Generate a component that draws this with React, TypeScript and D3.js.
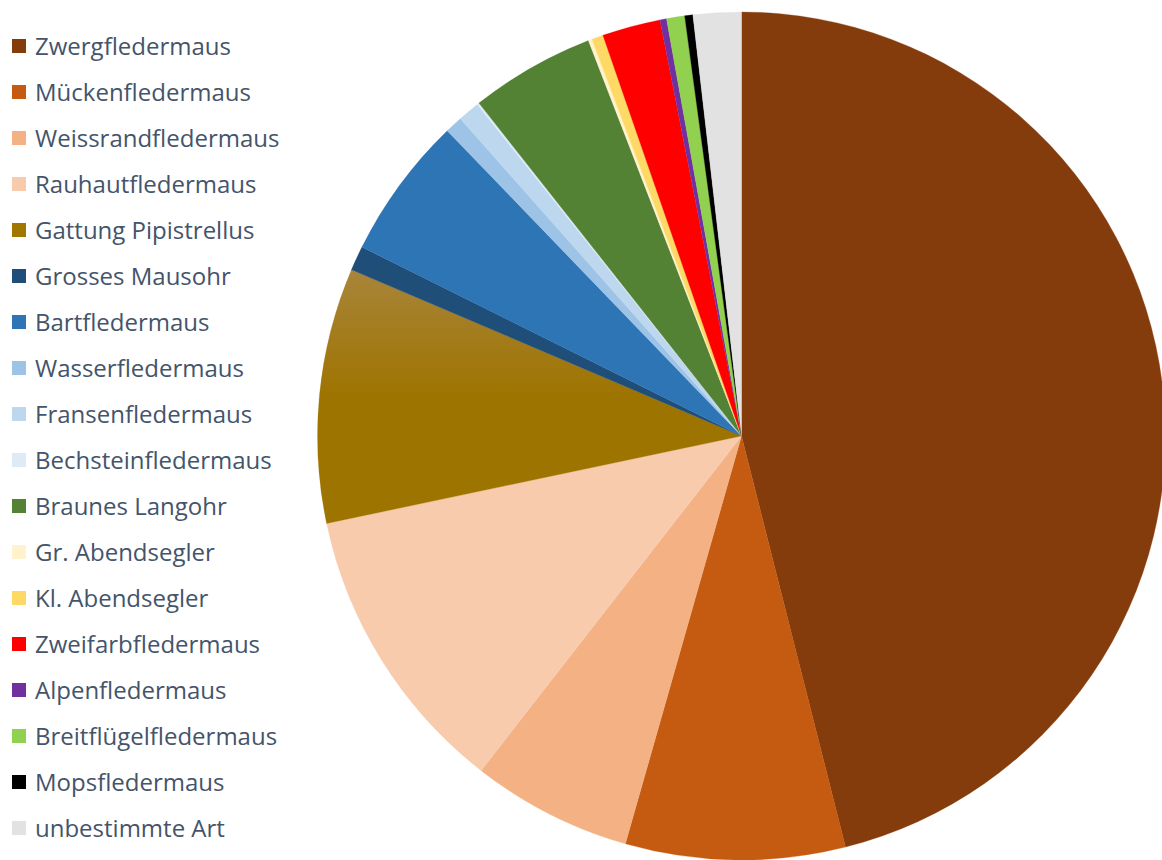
import React from "react";
import * as d3 from "d3";

const species = [
  "Zwergfledermaus",
  "Mückenfledermaus",
  "Weissrandfledermaus",
  "Rauhautfledermaus",
  "Gattung Pipistrellus",
  "Grosses Mausohr",
  "Bartfledermaus",
  "Wasserfledermaus",
  "Fransenfledermaus",
  "Bechsteinfledermaus",
  "Braunes Langohr",
  "Gr. Abendsegler",
  "Kl. Abendsegler",
  "Zweifarbfledermaus",
  "Alpenfledermaus",
  "Breitflügelfledermaus",
  "Mopsfledermaus",
  "unbestimmte Art",
];

const shares = [
  46.06, 8.36, 6.11, 11.17, 9.72, 0.94, 5.44, 0.67, 0.83, 0.08, 4.75, 0.14,
  0.44, 2.22, 0.25, 0.69, 0.31, 1.83,
];

const colors = [
  "#843C0C",
  "#C55A11",
  "#F4B183",
  "#F8CBAD",
  "url(#gattungGrad)",
  "#1F4E79",
  "#2E75B6",
  "#9DC3E6",
  "#BDD7EE",
  "#DEEBF7",
  "#548235",
  "#FFF2CC",
  "#FFD966",
  "#FF0000",
  "#7030A0",
  "#92D050",
  "#000000",
  "#E2E2E2",
];

const legendColors = colors.map((c) => (c.startsWith("url") ? "#A07800" : c));

const W = 1162;
const H = 860;
const cx = 741.5;
const cy = 436;
const R = 424;

export default function App() {
  const data = species.map((name, i) => ({ name, value: shares[i], color: colors[i] }));
  const pie = d3
    .pie<{ name: string; value: number; color: string }>()
    .value((d) => d.value)
    .sort(null)
    .startAngle(0)
    .endAngle(2 * Math.PI);
  const arcs = pie(data);
  const arc = d3
    .arc<d3.PieArcDatum<{ name: string; value: number; color: string }>>()
    .innerRadius(0)
    .outerRadius(R);

  const legendY = d3
    .scalePoint<string>()
    .domain(species)
    .range([46, 828]);

  return (
    <svg
      width={W}
      height={H}
      style={{ position: "absolute", left: 0, top: 0, display: "block", background: "#fff" }}
    >
      <defs>
        <linearGradient id="gattungGrad" gradientUnits="userSpaceOnUse" x1="0" y1="-170" x2="0" y2="-40">
          <stop offset="0" stopColor="#A9853C" />
          <stop offset="1" stopColor="#9E7400" />
        </linearGradient>
      </defs>
      <g transform={`translate(${cx},${cy})`}>
        {arcs.map((a, i) => (
          <path key={i} d={arc(a) || ""} fill={a.data.color} stroke={a.data.color} strokeWidth={0.3} />
        ))}
      </g>
      <g>
        {species.map((s, i) => {
          const y = legendY(s) as number;
          return (
            <g key={s}>
              <rect x={12} y={y - 7} width={14} height={14} fill={legendColors[i]} />
              <text
                x={35}
                y={y}
                dy="0.36em"
                fontFamily="'Open Sans', sans-serif"
                fontSize={24}
                fill="#44546A"
              >
                {s}
              </text>
            </g>
          );
        })}
      </g>
    </svg>
  );
}
